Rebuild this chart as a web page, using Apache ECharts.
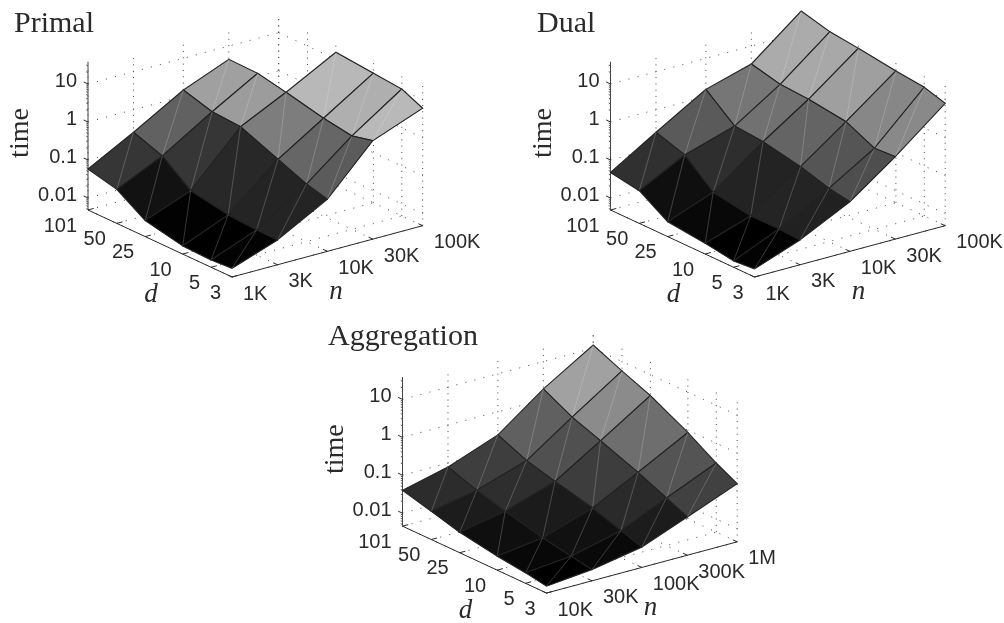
<!DOCTYPE html>
<html>
<head>
<meta charset="utf-8">
<style>html,body{margin:0;padding:0;background:#fff}#c{width:1004px;height:623px}</style>
<script src="https://cdn.jsdelivr.net/npm/echarts@6/dist/echarts.min.js"></script>
</head>
<body>
<div id="c"></div>
<script>
// ---- data ----
const dValues = [101, 50, 25, 10, 5, 3];
const dLabels = ['101', '50', '25', '10', '5', '3'];
const smallN = [1000, 3000, 10000, 30000, 100000];
const smallNLabels = ['1K', '3K', '10K', '30K', '100K'];
const largeN = [10000, 30000, 100000, 300000, 1000000];
const largeNLabels = ['10K', '30K', '100K', '300K', '1M'];
const timeTicks = [0.01, 0.1, 1, 10];
const timeTickLabels = ['0.01', '0.1', '1', '10'];

// rows follow dValues, columns follow n; null = not drawn in the reference
const primalTime = [
  [0.058, 0.256, 1.47, 4.5, null],
  [0.038, 0.137, 0.885, 4.33, null],
  [0.0127, 0.0372, 0.794, 3.05, 15.3],
  [0.0079, 0.0247, 0.318, 1.82, 12.4],
  [0.0075, 0.0221, 0.158, 1.39, 10.6],
  [0.0082, 0.0217, 0.113, 1.88, 5.94]
];
const dualTime = [
  [0.047, 0.256, 1.53, 3.38, 37.2],
  [0.035, 0.146, 0.372, 2.22, 23.9],
  [0.0119, 0.0338, 0.32, 2.0, 19.5],
  [0.0093, 0.0232, 0.203, 1.48, 14.2],
  [0.0071, 0.0235, 0.122, 0.658, 11.8],
  [0.0079, 0.0217, 0.0975, 0.713, 8.04]
];
const aggregationTime = [
  [0.04, 0.0785, 0.245, 1.9, 12.1],
  [0.0251, 0.0428, 0.116, 0.771, 5.66],
  [0.0157, 0.0267, 0.0726, 0.408, 2.82],
  [0.0106, 0.0154, 0.0418, 0.173, 0.865],
  [0.0086, 0.0112, 0.0235, 0.0815, 0.301],
  [0.0069, 0.009, 0.0157, 0.0463, 0.155]
];

// ---- layout ----
const panels = [
  {title: 'Primal', titleX: 14, titleY: 9, fx: 232, fy: 277, n: smallN, nLabels: smallNLabels, time: primalTime, zFloor: 0.00483, zTop: 38.6, gridTop: 27},
  {title: 'Dual', titleX: 537, titleY: 9, fx: 754.5, fy: 277, n: smallN, nLabels: smallNLabels, time: dualTime, zFloor: 0.00483, zTop: 38.6, gridTop: 27},
  {title: 'Aggregation', titleX: 328, titleY: 322, fx: 546.5, fy: 593.5, n: largeN, nLabels: largeNLabels, time: aggregationTime, zFloor: 0.00455, zTop: 38.6, gridTop: 27}
];
const SERIF = '"Liberation Serif","Times New Roman",serif';
const SANS = '"Liberation Sans",Arial,sans-serif';
const INK = '#2a2a2a';

const uOf = d => Math.log(d / 3) / Math.log(101 / 3);
const vOf = (p, n) => Math.log10(n / p.n[0]) / Math.log10(p.n[p.n.length - 1] / p.n[0]);
const hOf = (p, t) => Math.log10(t / p.zFloor);
// axonometric view: data space to the plane of the hidden cartesian axes
const planeUVH = (u, v, h) => [-144 * u + 190.7 * v, 67 * u + 51.3 * v + 38 * h];

panels.forEach(p => {
  const logs = p.time.flat().filter(x => x !== null).map(x => Math.log10(x));
  p.cMin = Math.min(...logs);
  p.cMax = Math.max(...logs);
});

function grayOf(p, t) {
  const g = Math.round(255 * (Math.log10(t) - p.cMin) / (p.cMax - p.cMin));
  return 'rgb(' + g + ',' + g + ',' + g + ')';
}

function renderFrame(p, api) {
  const kids = [];
  const at = (u, v, h) => api.coord(planeUVH(u, v, h));
  const seg = (a, b, style) => kids.push({
    type: 'line', silent: true,
    shape: {x1: a[0], y1: a[1], x2: b[0], y2: b[1]},
    style: Object.assign({fill: null}, style)
  });
  const label = (pt, dx, dy, text, align) => kids.push({
    type: 'text', silent: true,
    style: {x: pt[0] + dx, y: pt[1] + dy, text: text, fill: INK, align: align,
            verticalAlign: 'middle', font: '20px ' + SANS}
  });
  const dotH = {stroke: '#444', lineWidth: 1, lineDash: [1, 8.3]};
  const dotV = {stroke: '#444', lineWidth: 1, lineDash: [1, 5.3]};
  const solid = {stroke: '#2a2a2a', lineWidth: 1};
  const top = hOf(p, p.zTop);
  const wallTop = hOf(p, p.gridTop);
  const nU = dValues.map(uOf);
  const nV = p.n.map(n => vOf(p, n));

  // dotted floor and back walls
  nU.forEach(u => {
    seg(at(u, 0, 0), at(u, 1, 0), dotH);
    seg(at(u, 1, 0), at(u, 1, wallTop), dotV);
  });
  nV.forEach(v => {
    seg(at(0, v, 0), at(1, v, 0), dotH);
    seg(at(1, v, 0), at(1, v, wallTop), dotV);
  });
  timeTicks.forEach(t => {
    const h = hOf(p, t);
    seg(at(1, 0, h), at(1, 1, h), dotH);
    seg(at(1, 1, h), at(0, 1, h), dotH);
  });

  // solid axes
  seg(at(1, 0, 0), at(0, 0, 0), solid);
  seg(at(0, 0, 0), at(0, 1, 0), solid);
  seg(at(1, 0, 0), at(1, 0, top), {stroke: '#444', lineWidth: 1});

  // d axis
  nU.forEach((u, i) => {
    seg(at(u, 0, 0), at(u, 0.03, 0), solid);
    label(at(u, 0, 0), -11, 16, dLabels[i], 'right');
  });
  // n axis
  nV.forEach((v, i) => {
    seg(at(0, v, 0), at(0.03, v, 0), solid);
    label(at(0, v, 0), 11, 17, p.nLabels[i], 'left');
  });
  // time axis with log minor ticks
  timeTicks.forEach((t, i) => {
    const h = hOf(p, t);
    seg(at(1, 0, h), at(1.03, 0, h), solid);
    label(at(1, 0, h), -11, -3, timeTickLabels[i], 'right');
  });
  for (let e = -3; e <= 1; e++) {
    for (let m = 2; m < 10; m++) {
      const t = m * Math.pow(10, e);
      if (t > p.zFloor && t < p.zTop) {
        const h = hOf(p, t);
        seg(at(1, 0, h), at(1.012, 0, h), {stroke: '#555', lineWidth: 1});
      }
    }
  }

  // axis names
  const o = at(0, 0, 0);
  const leftCorner = at(1, 0, 0);
  kids.push({type: 'text', silent: true,
    style: {x: o[0] - 81, y: o[1] + 18, text: 'd', fill: INK, align: 'center', verticalAlign: 'middle',
            font: 'italic 27px ' + SERIF}});
  kids.push({type: 'text', silent: true,
    style: {x: o[0] + 104, y: o[1] + 15, text: 'n', fill: INK, align: 'center', verticalAlign: 'middle',
            font: 'italic 27px ' + SERIF}});
  kids.push({type: 'text', silent: true, rotation: Math.PI / 2,
    x: leftCorner[0] - 67, y: leftCorner[1] - 77,
    style: {x: 0, y: 0, text: 'time', fill: INK, align: 'center', verticalAlign: 'middle',
            font: '28px ' + SERIF}});
  return {type: 'group', children: kids};
}

function renderCell(p, params, api) {
  const i = api.value(0), j = api.value(1);
  const pt = (r, c) => api.coord(planeUVH(uOf(dValues[r]), vOf(p, p.n[c]), hOf(p, p.time[r][c])));
  const leftPt = pt(i, j), bottomPt = pt(i + 1, j), rightPt = pt(i + 1, j + 1), topPt = pt(i, j + 1);
  return {
    type: 'group',
    children: [
      {type: 'polygon', silent: true,
       shape: {points: [leftPt, bottomPt, rightPt, topPt]},
       style: {fill: grayOf(p, p.time[i + 1][j]), stroke: '#222', lineWidth: 1.1}},
      {type: 'line', silent: true,
       shape: {x1: bottomPt[0], y1: bottomPt[1], x2: topPt[0], y2: topPt[1]},
       style: {stroke: 'rgba(235,235,235,0.45)', lineWidth: 0.5, fill: null}}
    ]
  };
}

const grid = [], xAxis = [], yAxis = [], series = [], title = [];
panels.forEach((p, k) => {
  grid.push({left: p.fx - 170, top: p.fy + 30 - 300, width: 400, height: 300, containLabel: false});
  xAxis.push({type: 'value', gridIndex: k, min: -170, max: 230, show: false});
  yAxis.push({type: 'value', gridIndex: k, min: -30, max: 270, show: false});
  title.push({text: p.title, left: p.titleX, top: p.titleY, padding: 0,
    textStyle: {fontFamily: SERIF, fontSize: 30, fontWeight: 'normal', color: INK}});
  series.push({type: 'custom', xAxisIndex: k, yAxisIndex: k, silent: true, z: 1,
    encode: {x: 0, y: 1}, data: [[0, 0]],
    renderItem: (params, api) => renderFrame(p, api)});
  const cells = [];
  for (let i = 0; i < dValues.length - 1; i++) {
    for (let j = p.n.length - 2; j >= 0; j--) {
      const q = [p.time[i][j], p.time[i + 1][j], p.time[i + 1][j + 1], p.time[i][j + 1]];
      if (q.every(x => x !== null)) cells.push([i, j]);
    }
  }
  series.push({type: 'custom', xAxisIndex: k, yAxisIndex: k, silent: true, z: 2,
    encode: {x: 0, y: 1}, data: cells,
    renderItem: (params, api) => renderCell(p, params, api)});
});

const chart = echarts.init(document.getElementById('c'), null, {renderer: 'canvas'});
chart.setOption({
  backgroundColor: '#fff',
  animation: false,
  tooltip: {show: false},
  title: title,
  grid: grid,
  xAxis: xAxis,
  yAxis: yAxis,
  series: series
});
</script>
</body>
</html>
